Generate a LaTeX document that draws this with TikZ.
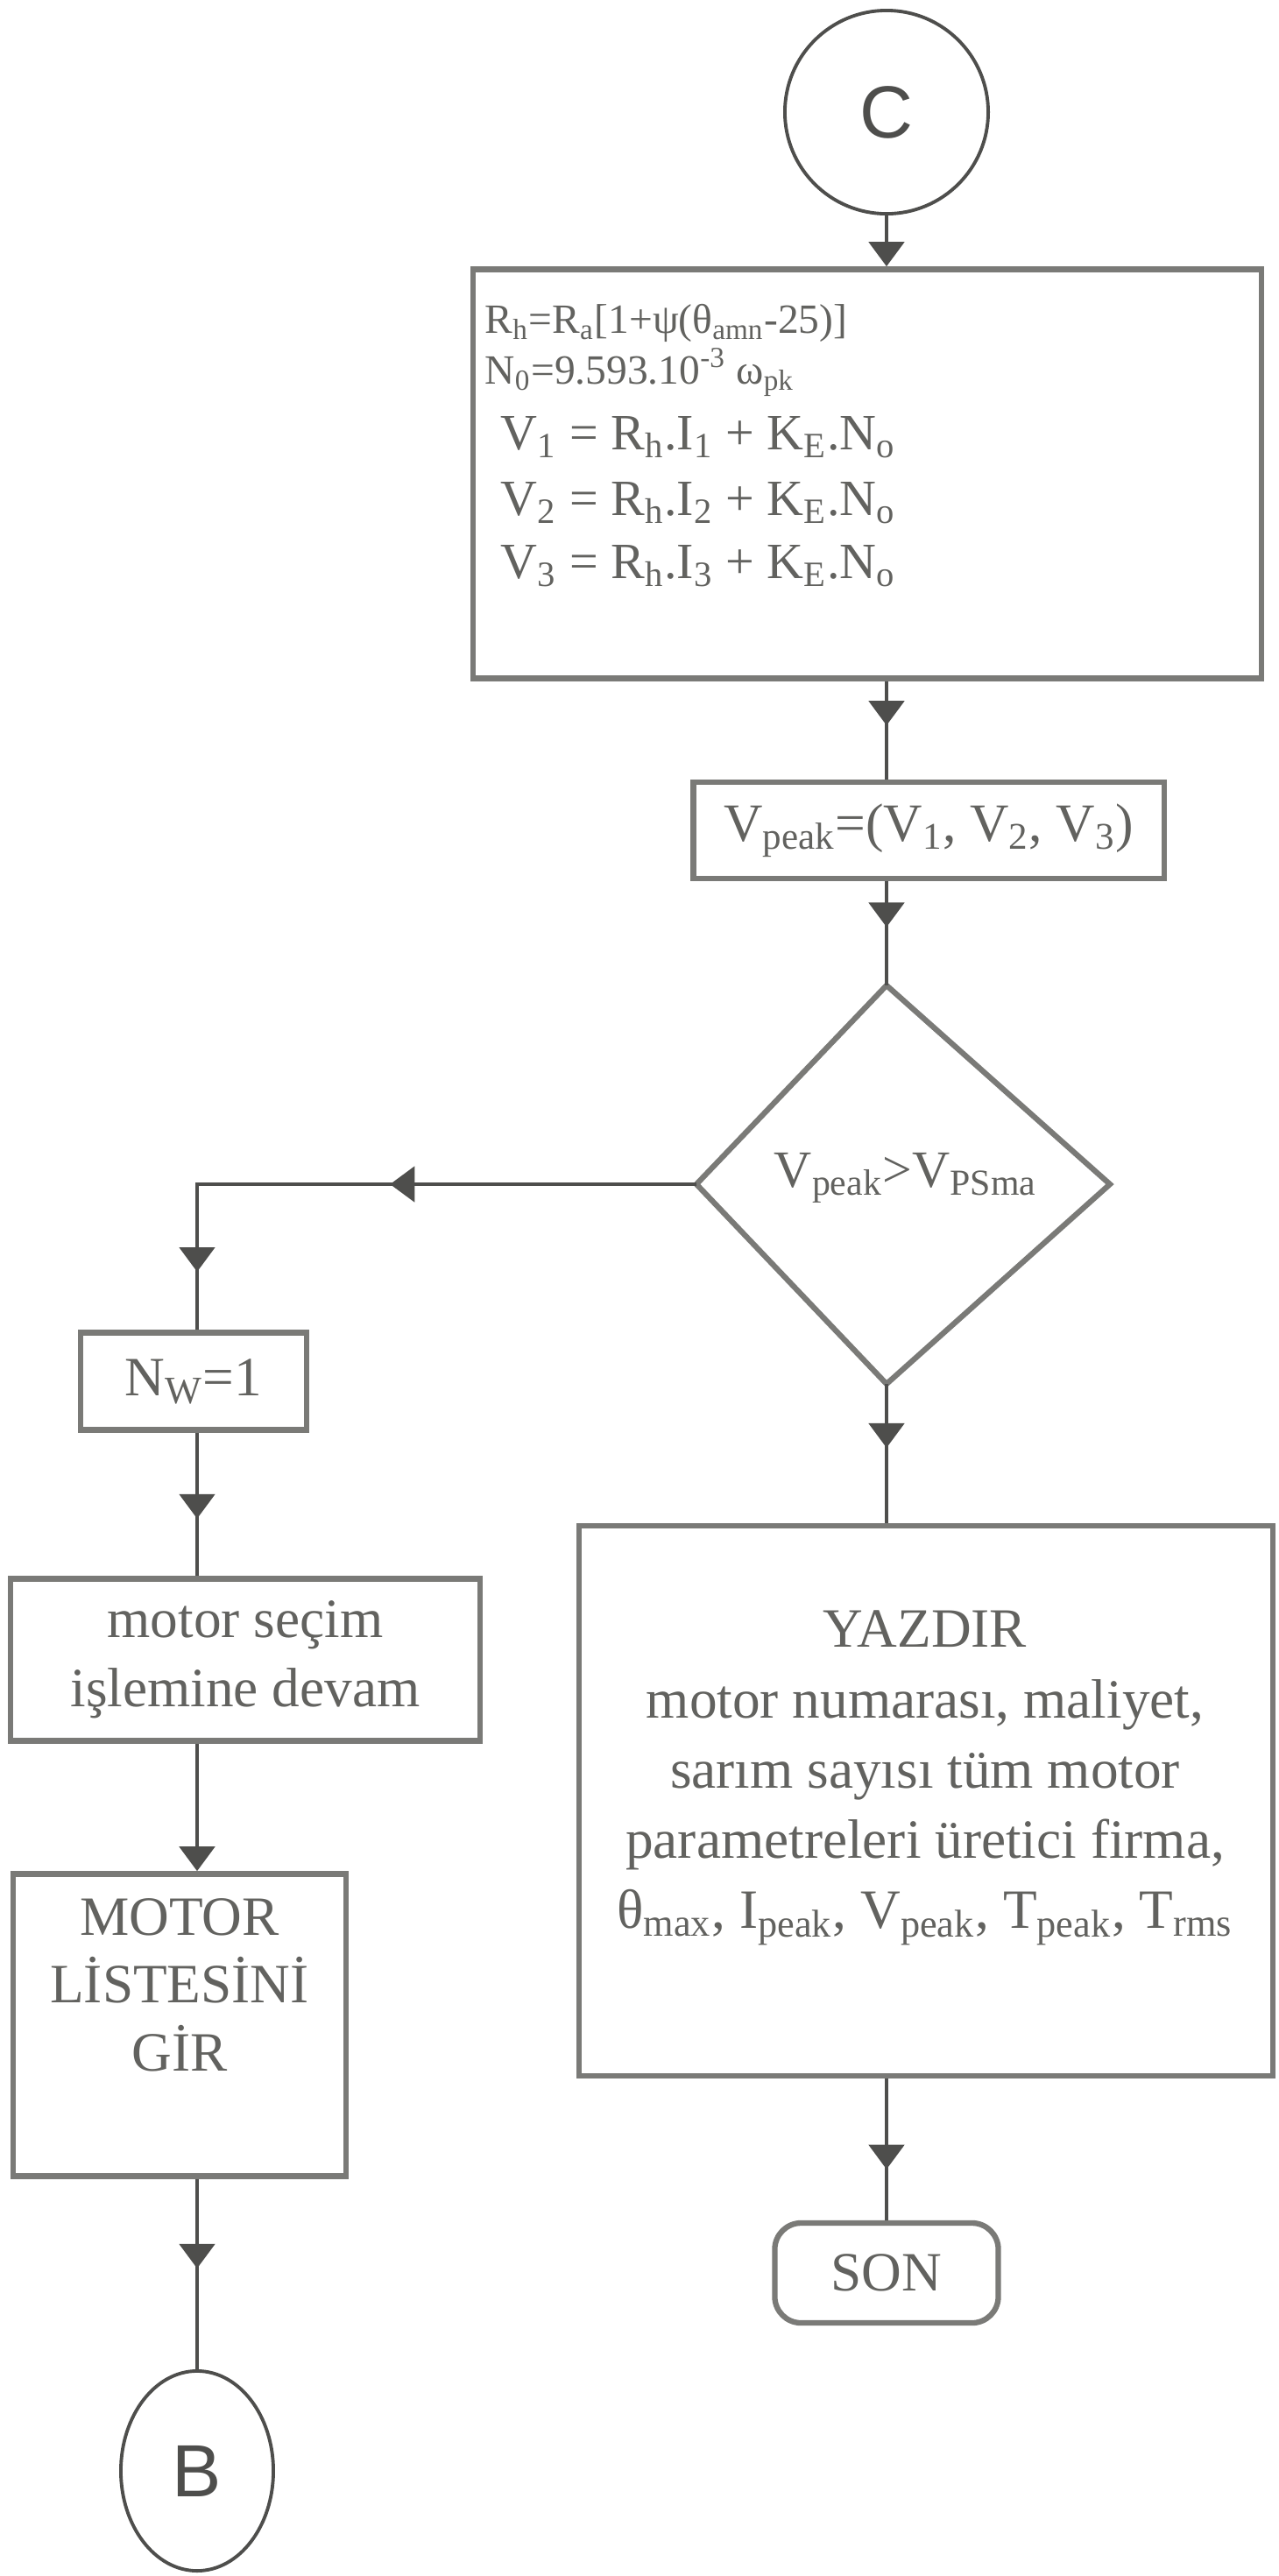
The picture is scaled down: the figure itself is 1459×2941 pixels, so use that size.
\documentclass[tikz,border=0pt]{standalone}
\usepackage{fontspec}
\setmainfont{Liberation Serif}
\newfontfamily\sansC{Liberation Sans}
\usetikzlibrary{arrows.meta,decorations.markings,shapes.geometric}
\definecolor{boxgray}{RGB}{122,122,119}
\definecolor{linegray}{RGB}{78,78,76}
\definecolor{textgray}{RGB}{98,98,95}
\tikzset{
  procbox/.style={draw=boxgray, line width=1.8pt, rectangle, inner sep=0pt, align=center,
    text=textgray, font=\fontsize{18}{22.5}\selectfont},
  procline/.style={draw=boxgray, line width=1.8pt},
  connect/.style={draw=linegray, circle, line width=1.1pt, inner sep=0pt, text=linegray,
    font=\sansC\fontsize{24}{24}\selectfont},
  boxtext/.style={text=textgray, inner sep=0pt},
  flowline/.style={draw=linegray, line width=1.4pt},
  endhead/.style={-{Triangle[width=4mm,length=2.8mm]}},
  headat/.style={postaction={decorate, decoration={markings,
    mark=at position #1 with {\arrow{Triangle[width=4mm,length=2.8mm]}}}}}
}

\begin{document}
\begin{tikzpicture}[x=0.01cm, y=-0.01cm]
\useasboundingbox (0,0) rectangle (1459,2941);
% right column
\node[connect, minimum size=2.32cm] (C) at (1012,128) {C};
\node[procbox, minimum width=8.99cm, minimum height=4.67cm] (calc) at (990,541) {};
\node[boxtext, anchor=base west, font=\fontsize{13.5}{16}\selectfont] (rh) at (553,380) {R\textsubscript{h}=R\textsubscript{a}[1+ψ(θ\textsubscript{amn}-25)]};
\node[boxtext, anchor=base west, font=\fontsize{13.5}{16}\selectfont] (no) at (553,438) {N\textsubscript{0}=9.593.10\textsuperscript{-3} ω\textsubscript{pk}};
\node[boxtext, anchor=base west, font=\fontsize{16.5}{19}\selectfont] (va) at (571,513) {V\textsubscript{1} = R\textsubscript{h}.I\textsubscript{1} + K\textsubscript{E}.N\textsubscript{o}};
\node[boxtext, anchor=base west, font=\fontsize{16.5}{19}\selectfont] (vb) at (571,588) {V\textsubscript{2} = R\textsubscript{h}.I\textsubscript{2} + K\textsubscript{E}.N\textsubscript{o}};
\node[boxtext, anchor=base west, font=\fontsize{16.5}{19}\selectfont] (vc) at (571,660) {V\textsubscript{3} = R\textsubscript{h}.I\textsubscript{3} + K\textsubscript{E}.N\textsubscript{o}};
\node[procbox, minimum width=5.37cm, minimum height=1.10cm, font=\fontsize{17.5}{21}\selectfont] (peak) at (1060,948) {V\textsubscript{peak}=(V\textsubscript{1}, V\textsubscript{2}, V\textsubscript{3})};
% decision
\coordinate (dtop) at (1012,1125);
\coordinate (dright) at (1267,1352);
\coordinate (dbot) at (1012,1580);
\coordinate (dleft) at (795,1352);
\draw[procline] (dtop) -- (dright) -- (dbot) -- (dleft) -- cycle;
\node[boxtext, font=\fontsize{17}{20}\selectfont] (test) at (1034,1345) {V\textsubscript{peak}>V\textsubscript{PSma}};
\node[procbox, minimum width=7.91cm, minimum height=6.28cm] (print) at (1057,2056) {};
\node[boxtext, align=center, font=\fontsize{18}{22.8}\selectfont] (printtext) at (1056,2030) {YAZDIR\\motor numarası, maliyet,\\sarım sayısı tüm motor\\parametreleri üretici firma,\\θ\textsubscript{max}, I\textsubscript{peak}, V\textsubscript{peak}, T\textsubscript{peak}, T\textsubscript{rms}};
\node[procbox, rounded corners=0.3cm, minimum width=2.55cm, minimum height=1.14cm] (son) at (1012,2595) {SON};
% left column
\node[procbox, minimum width=2.58cm, minimum height=1.11cm] (nw) at (221,1577) {N\textsubscript{W}=1};
\node[procbox, minimum width=5.36cm, minimum height=1.85cm] (cont) at (280,1895) {motor seçim\\işlemine devam};
\node[procbox, minimum width=3.80cm, minimum height=3.45cm] (list) at (205,2312) {};
\node[boxtext, align=center, font=\fontsize{18}{22}\selectfont] (listtext) at (205,2266) {MOTOR\\LİSTESİNİ\\GİR};
\node[connect, ellipse, minimum width=1.74cm, minimum height=2.28cm] (B) at (225,2821) {B};
% connectors
\draw[flowline, endhead] (C) -- (C |- calc.north);
\draw[flowline, headat=0.45] (calc.south -| C) -- (peak.north -| C);
\draw[flowline, headat=0.44] (peak.south -| C) -- (dtop);
\draw[flowline, headat=0.46] (dbot) -- (print.north -| C);
\draw[flowline, headat=0.64] (print.south -| C) -- (son);
\draw[flowline, headat=0.475, headat=0.91] (dleft) -- (dleft -| B) -- (nw.north -| B);
\draw[flowline, headat=0.6] (nw.south -| B) -- (cont.north -| B);
\draw[flowline, endhead] (cont.south -| B) -- (list.north -| B);
\draw[flowline, headat=0.47] (list.south -| B) -- (B);
\end{tikzpicture}
\end{document}
